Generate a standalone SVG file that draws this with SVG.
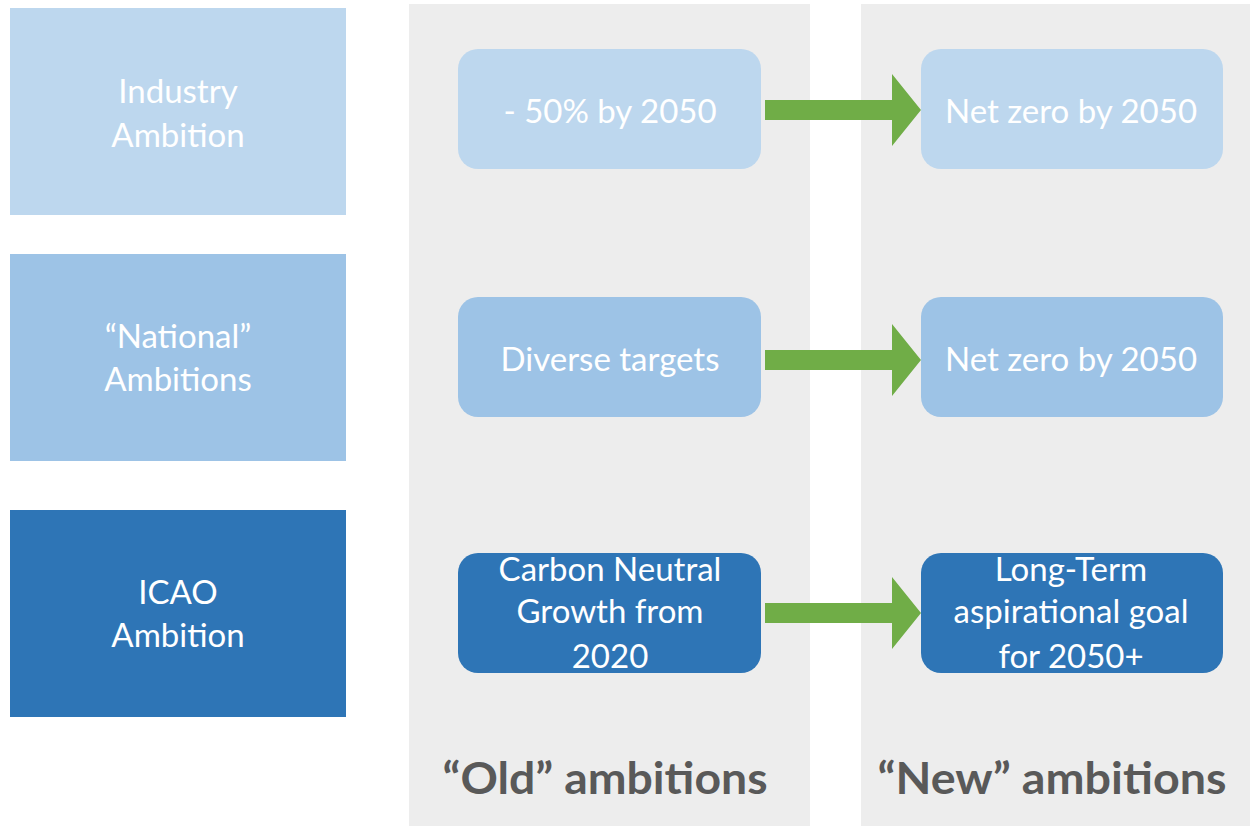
<svg xmlns="http://www.w3.org/2000/svg" width="1250" height="828" viewBox="0 0 1250 828">
  <defs>
    <style>
      .bg { fill: #ffffff; }
      .panel { fill: #ededed; }
      .c1 { fill: #bdd7ee; }
      .c2 { fill: #9dc3e6; }
      .c3 { fill: #2e75b6; }
      .arrow { fill: #70ad47; }
      .lbl { font-family: Lato, "Open Sans", "Liberation Sans", sans-serif; font-size: 33px; fill: #ffffff; text-anchor: middle; }
      .head { font-family: Lato, "Open Sans", "Liberation Sans", sans-serif; font-size: 44px; font-weight: bold; fill: #595959; text-anchor: middle; }
    </style>
  </defs>

  <rect class="bg" x="0" y="0" width="1250" height="828"/>

  <!-- column backgrounds -->
  <g id="col-old">
    <rect class="panel" x="409" y="4" width="401" height="822"/>
    <text class="head" x="605" y="794" textLength="325" lengthAdjust="spacingAndGlyphs">“Old” ambitions</text>
  </g>
  <g id="col-new">
    <rect class="panel" x="861" y="4" width="389" height="822"/>
    <text class="head" x="1052" y="794" textLength="349" lengthAdjust="spacingAndGlyphs">“New” ambitions</text>
  </g>

  <!-- row headers -->
  <g id="industry">
    <rect class="c1" x="10" y="8" width="336" height="207"/>
    <text class="lbl" x="178" y="103">Industry</text>
    <text class="lbl" x="178" y="147">Ambition</text>
  </g>
  <g id="national">
    <rect class="c2" x="10" y="254" width="336" height="207"/>
    <text class="lbl" x="178" y="348">“National”</text>
    <text class="lbl" x="178" y="391">Ambitions</text>
  </g>
  <g id="icao">
    <rect class="c3" x="10" y="510" width="336" height="207"/>
    <text class="lbl" x="178" y="604">ICAO</text>
    <text class="lbl" x="178" y="647">Ambition</text>
  </g>

  <!-- old targets -->
  <g id="old-industry">
    <rect class="c1" x="458" y="49" width="303" height="120" rx="20"/>
    <text class="lbl" x="610" y="123">- 50% by 2050</text>
  </g>
  <g id="old-national">
    <rect class="c2" x="458" y="297" width="303" height="120" rx="20"/>
    <text class="lbl" x="610" y="371">Diverse targets</text>
  </g>
  <g id="old-icao">
    <rect class="c3" x="458" y="553" width="303" height="120" rx="20"/>
    <text class="lbl" x="610" y="581">Carbon Neutral</text>
    <text class="lbl" x="610" y="623">Growth from</text>
    <text class="lbl" x="610" y="668">2020</text>
  </g>

  <!-- new targets -->
  <g id="new-industry">
    <rect class="c1" x="921" y="49" width="302" height="120" rx="20"/>
    <text class="lbl" x="1071" y="123">Net zero by 2050</text>
  </g>
  <g id="new-national">
    <rect class="c2" x="921" y="297" width="302" height="120" rx="20"/>
    <text class="lbl" x="1071" y="371">Net zero by 2050</text>
  </g>
  <g id="new-icao">
    <rect class="c3" x="921" y="553" width="302" height="120" rx="20"/>
    <text class="lbl" x="1071" y="581">Long-Term</text>
    <text class="lbl" x="1071" y="623">aspirational goal</text>
    <text class="lbl" x="1071" y="668">for 2050+</text>
  </g>

  <!-- block arrows old -> new -->
  <g id="connectors">
    <path class="arrow" d="M765,100 H892 V74 L921,110 L892,146 V120 H765 Z"/>
    <path class="arrow" d="M765,350 H892 V324 L921,360 L892,396 V370 H765 Z"/>
    <path class="arrow" d="M765,603 H892 V577 L921,613 L892,649 V623 H765 Z"/>
  </g>
</svg>
